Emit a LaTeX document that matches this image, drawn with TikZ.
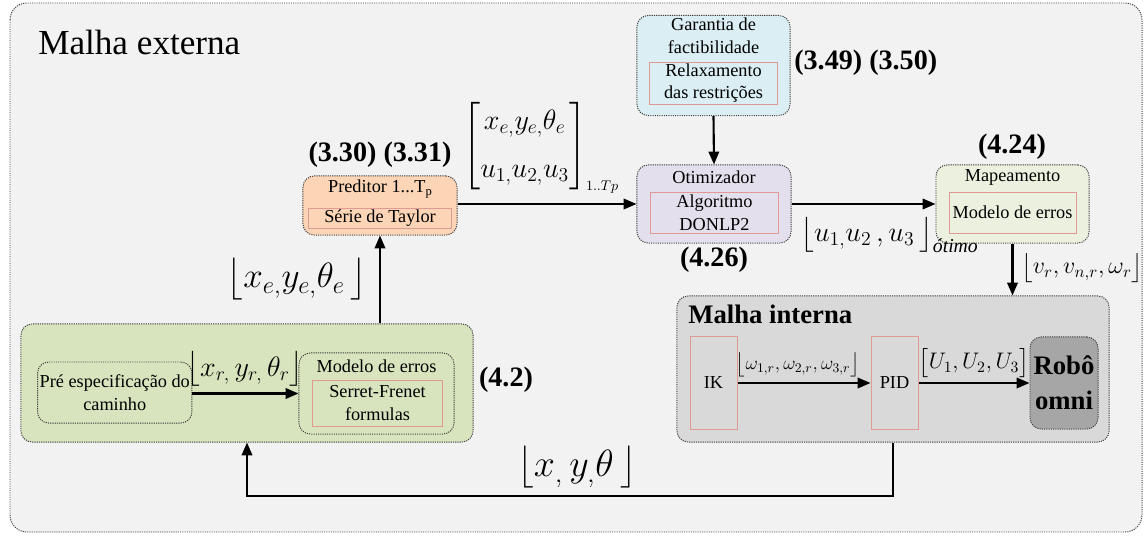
\RequirePackage{fix-cm}
\documentclass[tikz,border=0pt]{standalone}
\usepackage{amsmath}
\usepackage{fontspec}
\setmainfont{Liberation Serif}
\usetikzlibrary{arrows.meta}

\definecolor{fundo}{HTML}{F2F2F2}
\definecolor{laranja}{HTML}{FBD5B5}
\definecolor{azul}{HTML}{DAEEF3}
\definecolor{lilas}{HTML}{E4DFEC}
\definecolor{verdeclaro}{HTML}{EBF1DE}
\definecolor{verde}{HTML}{D7E4BD}
\definecolor{cinza}{HTML}{D9D9D9}
\definecolor{cinzaescuro}{HTML}{A6A6A6}
\definecolor{vermelho}{HTML}{E09A96}

\tikzset{
  bloco/.style={draw=black!75, dash pattern=on 0.8pt off 0.8pt, line width=0.7pt,
    rounded corners=8pt, inner sep=0pt},
  caixa/.style={draw=vermelho, line width=0.7pt, inner sep=0pt, align=center,
    font=\fontsize{13}{16}\selectfont},
  rotulo/.style={inner sep=0pt, align=center, font=\fontsize{13}{16}\selectfont},
  eqnum/.style={inner sep=0pt, font=\fontsize{20}{24}\selectfont\bfseries},
  mat/.style={inner sep=0pt},
  seta/.style={line width=1.5pt, -{Triangle[length=3.2mm,width=2.6mm]}},
}

\begin{document}
\begin{tikzpicture}[x=0.025cm, y=-0.025cm]
\useasboundingbox (0,0) rectangle (1144,538);

% malha externa
\draw[fill=fundo, draw=black!75, dash pattern=on 0.8pt off 0.8pt, line width=0.7pt,
  rounded corners=12pt] (10,3) rectangle (1142,532);
\node[anchor=west, inner sep=0pt, font=\fontsize{25}{30}\selectfont] (mext) at (38,42) {Malha externa};

% preditor
\node[bloco, fill=laranja, minimum width=3.85cm, minimum height=1.475cm] (pred) at (380,205.5) {};
\node[rotulo] (predt) at (380,189) {Preditor 1...T\raisebox{-0.4ex}{\fontsize{9}{10}\selectfont p}};
\node[caixa, minimum width=3.55cm, minimum height=0.5cm] (taylor) at (380,218) {Série de Taylor};
\node[eqnum] (eqpred) at (380,155) {(3.30) (3.31)};

% garantia de factibilidade
\node[bloco, fill=azul, minimum width=3.825cm, minimum height=2.5cm] (gar) at (713.5,65.5) {};
\node[rotulo] (gart) at (713.5,35.5) {Garantia de\\factibilidade};
\node[caixa, minimum width=3.175cm, minimum height=1.05cm] (relax) at (713.5,83) {Relaxamento\\das restrições};
\node[eqnum, anchor=west] (eqgar) at (794,63) {(3.49) (3.50)};

% otimizador
\node[bloco, fill=lilas, minimum width=3.85cm, minimum height=1.95cm] (otim) at (714,204) {};
\node[rotulo] (otimt) at (714,177) {Otimizador};
\node[caixa, minimum width=3.175cm, minimum height=1.025cm] (donlp) at (714.5,212.5) {Algoritmo\\DONLP2};
\node[eqnum] (eqotim) at (714,260) {(4.26)};

% mapeamento
\node[bloco, fill=verdeclaro, minimum width=3.825cm, minimum height=1.95cm] (map) at (1012.5,204) {};
\node[rotulo] (mapt) at (1012.5,177) {Mapeamento};
\node[caixa, minimum width=3.175cm, minimum height=1.025cm] (maperr) at (1012.5,212.5) {Modelo de erros};
\node[eqnum] (eqmap) at (1012,147) {(4.24)};

% bloco de referencia
\node[bloco, fill=verde, minimum width=11.3cm, minimum height=2.95cm] (ref) at (247,383) {};
\node[bloco, rotulo, minimum width=3.86cm, minimum height=1.525cm] (pre) at (114.75,392.5) {Pré especificação do\\caminho};
\node[bloco, minimum width=3.875cm, minimum height=2.025cm] (modelo) at (376.5,393.5) {};
\node[rotulo] (modelot) at (376.5,366) {Modelo de erros};
\node[caixa, minimum width=3.225cm, minimum height=1.15cm] (serret) at (377.5,403) {Serret-Frenet\\formulas};
\node[eqnum] (eqref) at (506,380) {(4.2)};

% malha interna
\node[bloco, fill=cinza, minimum width=10.8cm, minimum height=3.65cm] (mint) at (893,369) {};
\node[anchor=west, inner sep=0pt, font=\fontsize{19}{23}\selectfont\bfseries] (mintt) at (688,314) {Malha interna};
\node[caixa, minimum width=1.175cm, minimum height=2.3cm] (ik) at (713.5,383) {IK};
\node[caixa, minimum width=1.175cm, minimum height=2.3cm] (pid) at (894.5,383) {PID};
\node[bloco, fill=cinzaescuro, align=center, minimum width=1.7cm, minimum height=2.3cm,
  font=\fontsize{19}{25}\selectfont\bfseries] (robo) at (1064,383) {Robô\\omni};

% conexoes
\draw[seta] (ref.north -| pred.south) -- (pred.south);
\draw[seta] (pred.east |- otim.west) -- (otim.west);
\draw[seta] (gar.south) -- (otim.north);
\draw[seta] (otim.east) -- (map.west);
\draw[seta] (map.south) -- (map.south |- mint.north);
\draw[seta] (pre.east |- modelo.west) -- (modelo.west);
\draw[seta] (ik.east) -- (pid.west);
\draw[seta] (pid.east) -- (robo.west);
\coordinate (fb) at (893,496);
\draw[seta] (mint.south) -- (fb) -| (ref.south);

% sinais
\node[mat, font=\fontsize{25}{30}\selectfont] (xe) at (297,279)
  {$\bigl\lfloor x_{e,}y_{e,}\theta_{e}\,\bigr\rfloor$};
\node[mat, anchor=west, font=\fontsize{20}{26}\selectfont] (xu) at (463,148)
  {$\left[\begin{matrix} x_{e,}y_{e,}\theta_{e} \\[8pt] u_{1,}u_{2,}u_{3} \end{matrix}\right]_{\scriptscriptstyle 1..Tp}$};
\node[mat, font=\fontsize{20}{24}\selectfont] (xr) at (245,369)
  {$\bigl\lfloor x_{r,}\,y_{r,}\,\theta_{r}\bigr\rfloor$};
\node[mat, anchor=west, font=\fontsize{20}{24}\selectfont] (uot) at (800,235)
  {$\bigl\lfloor u_{1,}u_{2}\,,u_{3}\,\bigr\rfloor_{\textit{ótimo}}$};
\node[mat, anchor=west, font=\fontsize{17}{22}\selectfont] (vr) at (1021,268)
  {$\bigl\lfloor v_{r},v_{n,r},\omega_{r}\bigr\rfloor$};
\node[mat, font=\fontsize{13.5}{17}\selectfont] (wr) at (798,365)
  {$\bigl\lfloor\omega_{1,r},\omega_{2,r},\omega_{3,r}\bigr\rfloor$};
\node[mat, font=\fontsize{16}{20}\selectfont] (uu) at (974,363)
  {$\bigl[U_{1},U_{2},U_{3}\bigr]$};
\node[mat, font=\fontsize{27}{32}\selectfont] (xy) at (577,467)
  {$\bigl\lfloor x_{,}\,y_{,}\theta\,\bigr\rfloor$};
\end{tikzpicture}
\end{document}
